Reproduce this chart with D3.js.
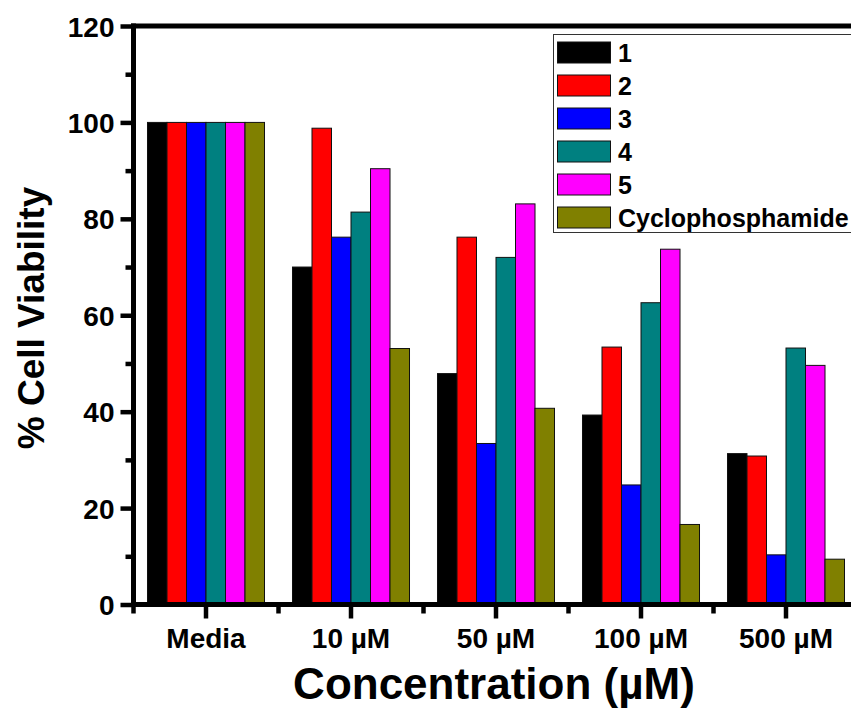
<!DOCTYPE html>
<html>
<head>
<meta charset="utf-8">
<script src="https://cdn.jsdelivr.net/npm/d3@7"></script>
<style>
  html, body { margin: 0; padding: 0; background: #fff; }
  svg { display: block; }
  text { font-family: "Liberation Sans", Arial, sans-serif; font-weight: bold; fill: #000; }
</style>
</head>
<body>
<svg id="chart" width="851" height="722"></svg>
<script>
const categories = ["Media", "10 µM", "50 µM", "100 µM", "500 µM"];
const seriesNames = ["1", "2", "3", "4", "5", "Cyclophosphamide"];
const seriesColors = ["#000000", "#FF0000", "#0000FF", "#008080", "#FF00FF", "#808000"];
const values1 = [100, 70.0, 47.9, 39.3, 31.3];
const values2 = [100, 98.8, 76.2, 53.4, 30.8];
const values3 = [100, 76.2, 33.4, 24.8, 10.3];
const values4 = [100, 81.4, 72.0, 62.6, 53.2];
const values5 = [100, 90.4, 83.1, 73.7, 49.6];
const values6 = [100, 53.1, 40.7, 16.6, 9.4];
const majorYTicks = [0, 20, 40, 60, 80, 100, 120];
const minorYTicks = [10, 30, 50, 70, 90, 110];
const xTitle = "Concentration (µM)";
const yTitle = "% Cell Viability";

const allValues = [values1, values2, values3, values4, values5, values6];

(function () {
const svg = d3.select("#chart");
const pLeft = 133.5, pRight = 858.5, pTop = 26, pBottom = 604.5;

const x0 = d3.scaleBand().domain(categories).range([pLeft, pRight])
  .paddingInner(0.193).paddingOuter(0.0965);
const x1 = d3.scaleBand().domain(seriesNames).range([0, x0.bandwidth()]);
const y = d3.scaleLinear().domain([0, 120]).range([pBottom, pTop]);

// bars
const groups = svg.append("g").selectAll("g")
  .data(categories).join("g")
  .attr("transform", c => `translate(${x0(c)},0)`);
groups.selectAll("rect")
  .data((c, ci) => seriesNames.map((s, si) => ({ s, si, v: allValues[si][ci] })))
  .join("rect")
  .attr("x", d => x1(d.s))
  .attr("y", d => y(d.v))
  .attr("width", x1.bandwidth())
  .attr("height", d => y(0) - y(d.v))
  .style("fill", d => seriesColors[d.si])
  .style("stroke", "#111")
  .style("stroke-width", "1px");

// y axis major
const yAxis = svg.append("g").attr("transform", `translate(${pLeft},0)`)
  .call(d3.axisLeft(y).tickValues(majorYTicks).tickSize(13).tickPadding(6).tickFormat(d3.format("d")));
yAxis.select(".domain").remove();
yAxis.selectAll(".tick line").style("stroke", "#000").style("stroke-width", "4.5px");
yAxis.selectAll(".tick text").style("font-size", "28px").attr("dy", "0.36em");

const yMinor = svg.append("g").attr("transform", `translate(${pLeft},0)`)
  .call(d3.axisLeft(y).tickValues(minorYTicks).tickSize(8).tickFormat(""));
yMinor.select(".domain").remove();
yMinor.selectAll(".tick line").style("stroke", "#000").style("stroke-width", "4.5px");

// x axis major
const xAxis = svg.append("g").attr("transform", `translate(0,${pBottom})`)
  .call(d3.axisBottom(x0).tickSize(14).tickPadding(10));
xAxis.select(".domain").remove();
xAxis.selectAll(".tick line").style("stroke", "#000").style("stroke-width", "4.5px");
xAxis.selectAll(".tick text").style("font-size", "28px").attr("dy", "0.71em");

// x minor ticks at group boundaries
const boundaries = categories.map(c => x0(c) - x0.step() * x0.paddingInner() / 2);
boundaries.push(x0(categories[categories.length - 1]) + x0.bandwidth() + x0.step() * x0.paddingInner() / 2);
svg.append("g").selectAll("line").data(boundaries).join("line")
  .attr("x1", d => d).attr("x2", d => d)
  .attr("y1", pBottom).attr("y2", pBottom + 9)
  .style("stroke", "#000").style("stroke-width", "4.5px");

// frame lines
const frame = svg.append("g").style("stroke", "#000").style("stroke-width", "5px");
frame.append("line").attr("x1", pLeft - 2.5).attr("x2", pRight + 10).attr("y1", pTop).attr("y2", pTop);
frame.append("line").attr("x1", pLeft).attr("x2", pLeft).attr("y1", pTop - 2.5).attr("y2", pBottom + 2.5);
frame.append("line").attr("x1", pLeft - 2.5).attr("x2", pRight + 10).attr("y1", pBottom).attr("y2", pBottom);

// axis titles
svg.append("text").attr("x", 494).attr("y", 699).attr("text-anchor", "middle")
  .style("font-size", "44px").text(xTitle);
svg.append("text").attr("transform", "translate(44,318) rotate(-90)").attr("text-anchor", "middle")
  .style("font-size", "37px").text(yTitle);

// legend
const legend = svg.append("g");
legend.append("rect").attr("x", 553.5).attr("y", 34.5).attr("width", 400).attr("height", 198)
  .style("fill", "#fff").style("stroke", "#333").style("stroke-width", "1px");
const rows = legend.selectAll("g.row").data(seriesNames).join("g").attr("class", "row")
  .attr("transform", (d, i) => `translate(0,${52.5 + 33 * i})`);
rows.append("rect").attr("x", 557.5).attr("y", -10.5).attr("width", 53).attr("height", 21)
  .style("fill", (d, i) => seriesColors[i]).style("stroke", "#111").style("stroke-width", "1px");
rows.append("text").attr("x", 618).attr("dy", "0.36em").style("font-size", "25px").text(d => d);
})();
</script>
</body>
</html>
